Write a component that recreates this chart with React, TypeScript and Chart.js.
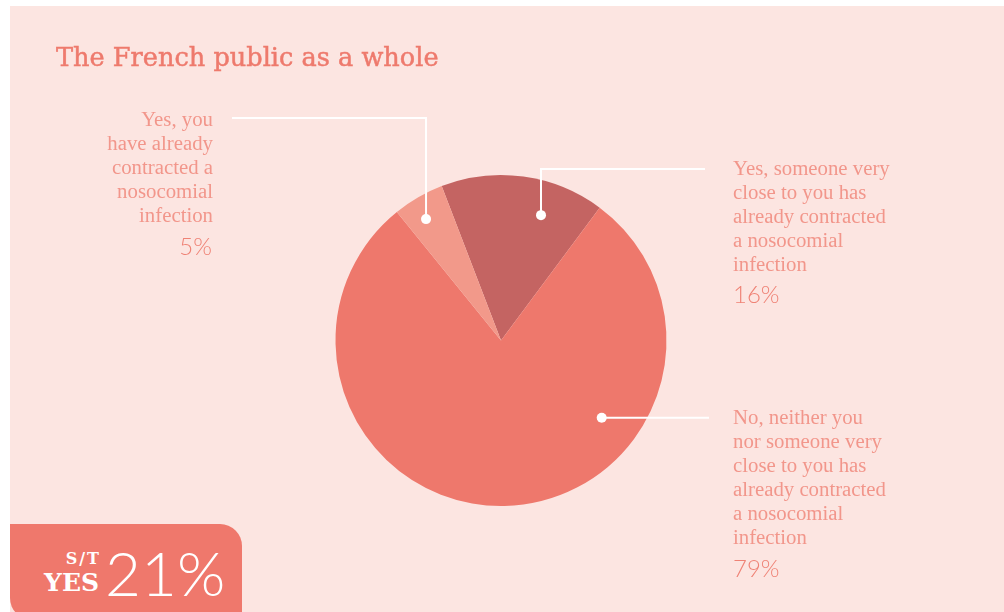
import React, { useEffect, useRef } from "react";
import { Chart, registerables } from "chart.js";

Chart.register(...registerables);

const categories = [
  "Yes, someone very close to you has already contracted a nosocomial infection",
  "No, neither you nor someone very close to you has already contracted a nosocomial infection",
  "Yes, you have already contracted a nosocomial infection",
];
const values = [16, 79, 5];
const sliceColors = ["#c46462", "#ee786c", "#f2998a"];
const percentLabels = ["16%", "79%", "5%"];
const title = "The French public as a whole";
const summaryTop = "S/T";
const summaryBottom = "YES";
const summaryValue = "21%";

// leader anchors: angle in degrees from top (clockwise), fraction of radius
const anchors = [
  { angle: 17.7, r: 0.795, ex: 541, ey: 169, end: 705 },
  { angle: 127.5, r: 0.767, ex: 602, ey: 418, end: 709 },
  { angle: -31.7, r: 0.862, ex: 426, ey: 118, end: 232 },
];

const leaderPlugin = {
  id: "leaders",
  afterDatasetsDraw(chart: any) {
    const ctx = chart.ctx;
    const meta = chart.getDatasetMeta(0);
    const arc = meta.data[0];
    const cx = arc.x;
    const cy = arc.y;
    const R = arc.outerRadius;
    ctx.save();
    ctx.strokeStyle = "#ffffff";
    ctx.fillStyle = "#ffffff";
    ctx.lineWidth = 2;
    anchors.forEach((a, i) => {
      const t = (a.angle * Math.PI) / 180;
      const px = cx + Math.sin(t) * R * a.r;
      const py = cy - Math.cos(t) * R * a.r;
      ctx.beginPath();
      if (i === 1) {
        ctx.moveTo(px, py);
        ctx.lineTo(a.end, py);
      } else {
        ctx.moveTo(px, py);
        ctx.lineTo(px, a.ey);
        ctx.lineTo(a.end, a.ey);
      }
      ctx.stroke();
      ctx.beginPath();
      ctx.arc(px, py, 5, 0, Math.PI * 2);
      ctx.fill();
    });
    ctx.restore();
  },
};

const labelFont = "'Liberation Serif', serif";
const pctFont = "Lato, 'Open Sans', sans-serif";
const labelColor = "#f2968b";
const pctColor = "#ef8275";

export default function App() {
  const ref = useRef<HTMLCanvasElement>(null);
  useEffect(() => {
    if (!ref.current) return;
    const chart = new Chart(ref.current, {
      type: "pie",
      data: {
        labels: categories,
        datasets: [
          {
            data: values,
            backgroundColor: sliceColors,
            borderWidth: 0,
          },
        ],
      },
      options: {
        animation: false,
        responsive: false,
        rotation: -21,
        layout: { padding: { left: 335.5, right: 337.5, top: 175, bottom: 106 } },
        plugins: { legend: { display: false }, tooltip: { enabled: false } },
      },
      plugins: [leaderPlugin],
    });
    return () => chart.destroy();
  }, []);

  const labelStyle: React.CSSProperties = {
    position: "absolute",
    fontFamily: labelFont,
    fontSize: 20.8,
    lineHeight: "24px",
    color: labelColor,
    whiteSpace: "pre-line",
    fontWeight: 400,
  };
  const pctStyle: React.CSSProperties = {
    position: "absolute",
    fontFamily: pctFont,
    fontSize: 24,
    fontWeight: 300,
    color: pctColor,
    lineHeight: "30px",
  };

  return (
    <div
      style={{
        position: "fixed",
        left: 0,
        top: 0,
        width: 1004,
        height: 612,
        background: "#ffffff",
        overflow: "hidden",
      }}
    >
      <div
        style={{
          position: "absolute",
          left: 10,
          top: 6,
          width: 994,
          height: 606,
          background: "#fce5e1",
        }}
      />
      <canvas ref={ref} width={1004} height={612} style={{ position: "absolute", left: 0, top: 0 }} />
      <div
        style={{
          position: "absolute",
          left: 56,
          top: 40,
          fontFamily: "'DejaVu Serif', serif",
          fontSize: 25.6,
          color: "#ee7a6d",
          lineHeight: "34px",
          whiteSpace: "nowrap",
          WebkitTextStroke: "0.5px #ee7a6d",
        }}
      >
        {title}
      </div>

      <div style={{ ...labelStyle, right: 1004 - 213, top: 107, textAlign: "right" }}>
        {"Yes, you\nhave already\ncontracted a\nnosocomial\ninfection"}
      </div>
      <div style={{ ...pctStyle, right: 1004 - 212, top: 231, textAlign: "right" }}>{percentLabels[2]}</div>

      <div style={{ ...labelStyle, left: 733, top: 156 }}>
        {"Yes, someone very\nclose to you has\nalready contracted\na nosocomial\ninfection"}
      </div>
      <div style={{ ...pctStyle, left: 733, top: 279 }}>{percentLabels[0]}</div>

      <div style={{ ...labelStyle, left: 733, top: 405 }}>
        {"No, neither you\nnor someone very\nclose to you has\nalready contracted\na nosocomial\ninfection"}
      </div>
      <div style={{ ...pctStyle, left: 733, top: 553 }}>{percentLabels[1]}</div>

      <div
        style={{
          position: "absolute",
          left: 10,
          top: 524,
          width: 232,
          height: 96,
          background: "#ef786c",
          borderRadius: "0 22px 0 22px",
        }}
      >
        <div
          style={{
            position: "absolute",
            right: 232 - 89,
            top: 25,
            textAlign: "right",
            fontFamily: "'DejaVu Serif', serif",
            fontWeight: 700,
            color: "#ffffff",
          }}
        >
          <div style={{ fontSize: 16, lineHeight: "20px", letterSpacing: 2, marginRight: -2 }}>{summaryTop}</div>
          <div style={{ fontSize: 25, lineHeight: "28px" }}>{summaryBottom}</div>
        </div>
        <div
          style={{
            position: "absolute",
            left: 95,
            top: 10,
            fontFamily: pctFont,
            fontWeight: 300,
            fontSize: 62,
            lineHeight: "76px",
            color: "#ffffff",
          }}
        >
          {summaryValue}
        </div>
      </div>
    </div>
  );
}
